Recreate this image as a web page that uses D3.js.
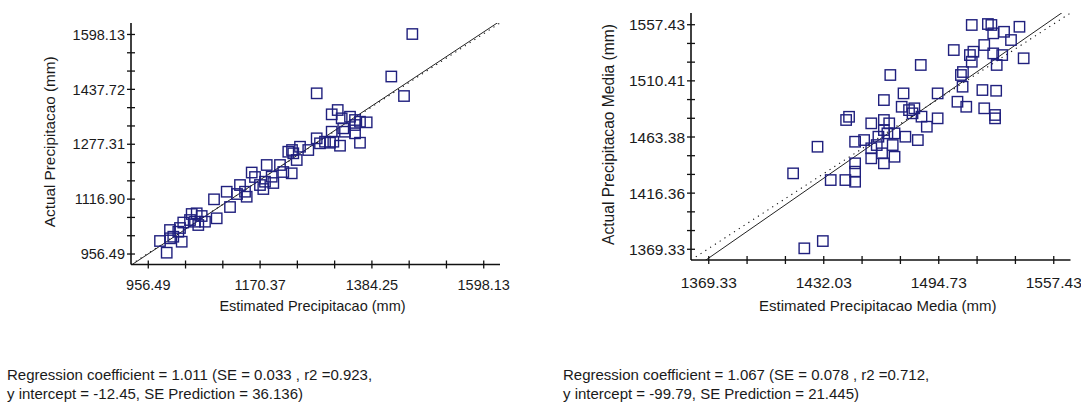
<!DOCTYPE html>
<html><head><meta charset="utf-8">
<script src="https://cdn.jsdelivr.net/npm/d3@7"></script>
<style>
body{margin:0;background:#fff}
text{font-family:"Liberation Sans",Arial,sans-serif;fill:#1a1a1a}
</style>
</head><body>
<svg id="c" width="1081" height="403"></svg>
<script>
// ---------- data ----------
const leftEstimated = [992.7, 979.9, 999.0, 1005.3, 1021.4, 999.0, 1014.9, 1024.4, 1018.1, 1040.5,
  1037.3, 1050.1, 1046.8, 1053.1, 1059.6, 1065.9, 1088.3, 1083.2, 1113.8, 1107.5,
  1127.2, 1132.9, 1145.7, 1142.5, 1155.3, 1161.6, 1171.1, 1177.5, 1180.7, 1184.0,
  1193.5, 1196.6, 1209.4, 1215.7, 1231.8, 1225.3, 1234.8, 1241.4, 1247.7, 1263.5,
  1232.4, 1279.6, 1285.9, 1295.5, 1305.0, 1311.4, 1324.2, 1319.8, 1308.3, 1327.4,
  1343.3, 1352.9, 1362.4, 1375.2, 1333.7, 1352.9, 1362.4, 1330.5, 1352.9, 1279.6,
  1422.3, 1446.6, 1462.5, 1308.3];
const leftActual = [958.9, 993.1, 1001.0, 1005.6, 991.0, 1025.2, 1020.2, 1047.1, 1031.1, 1072.0,
  1054.4, 1074.0, 1049.5, 1039.8, 1066.1, 1049.5, 1059.4, 1114.9, 1092.4, 1137.1,
  1130.4, 1156.7, 1122.5, 1137.1, 1193.2, 1180.1, 1156.7, 1145.0, 1166.4, 1215.2,
  1181.0, 1162.6, 1215.2, 1194.7, 1190.9, 1254.0, 1249.4, 1229.8, 1268.6, 1259.0,
  1259.0, 1293.2, 1278.6, 1283.3, 1280.3, 1283.3, 1271.6, 1375.9, 1363.3, 1351.6,
  1356.3, 1346.7, 1341.7, 1339.9, 1312.5, 1307.8, 1280.3, 1322.4, 1332.1, 1424.7,
  1473.8, 1416.8, 1598.0, 1312.5];

const rightEstimated = [1421.7, 1431.8, 1415.6, 1428.9, 1436.1, 1444.1, 1449.4, 1449.4, 1449.4, 1444.5,
  1446.1, 1449.4, 1454.3, 1458.2, 1458.2, 1458.2, 1462.1, 1465.1, 1465.1, 1465.1,
  1465.1, 1464.1, 1467.0, 1469.9, 1470.9, 1468.0, 1468.6, 1470.9, 1475.8, 1474.8,
  1476.8, 1478.8, 1480.7, 1481.7, 1483.6, 1485.6, 1485.2, 1488.5, 1494.4, 1494.4,
  1503.2, 1505.2, 1507.1, 1508.0, 1510.0, 1512.0, 1513.0, 1513.9, 1513.0, 1518.8,
  1519.8, 1519.8, 1521.8, 1523.7, 1524.7, 1524.7, 1525.7, 1526.3, 1526.6, 1529.6,
  1530.6, 1534.4, 1539.0, 1541.3, 1508.2, 1525.7, 1461.2];
const rightActual = [1369.7, 1375.8, 1432.5, 1454.8, 1426.9, 1426.9, 1425.5, 1433.9, 1440.9, 1477.2,
  1479.9, 1459.0, 1460.4, 1453.5, 1445.1, 1474.4, 1463.2, 1468.8, 1493.9, 1477.2,
  1440.9, 1449.3, 1466.0, 1456.2, 1446.4, 1474.4, 1514.9, 1466.0, 1499.5, 1488.3,
  1463.2, 1485.5, 1482.8, 1487.0, 1460.4, 1480.0, 1523.3, 1471.6, 1478.6, 1499.5,
  1535.8, 1492.5, 1514.9, 1505.1, 1488.3, 1531.6, 1556.8, 1534.4, 1526.0, 1502.3,
  1487.0, 1540.0, 1557.6, 1556.8, 1549.8, 1533.0, 1481.4, 1501.7, 1523.3, 1531.6,
  1551.1, 1544.2, 1555.3, 1528.9, 1517.4, 1478.6, 1456.2];

const leftXTicks = [956.49, 1170.37, 1384.25, 1598.13];
const leftYTicks = [956.49, 1116.90, 1277.31, 1437.72, 1598.13];
const rightXTicks = [1369.33, 1432.03, 1494.73, 1557.43];
const rightYTicks = [1369.33, 1416.36, 1463.38, 1510.41, 1557.43];

const leftDomain = [924.408, 1630.212];
const rightDomain = [1359.925, 1566.835];

const leftRegression = [1.011, -12.45];   // slope, intercept
const rightRegression = [1.067, -99.79];

const leftTitles = ["Estimated Precipitacao (mm)", "Actual Precipitacao (mm)"];
const rightTitles = ["Estimated Precipitacao Media (mm)", "Actual Precipitacao Media (mm)"];

const leftNotes = ["Regression coefficient = 1.011 (SE = 0.033 , r2 =0.923,",
                   "y intercept = -12.45, SE Prediction = 36.136)"];
const rightNotes = ["Regression coefficient = 1.067 (SE = 0.078 , r2 =0.712,",
                    "y intercept = -99.79, SE Prediction = 21.445)"];

// ---------- drawing ----------
const svg = d3.select("#c");
const markColor = "#20207e";

function withMinor(labels) {
  const out = [];
  for (let i = 0; i < labels.length; i++) {
    out.push(labels[i]);
    if (i < labels.length - 1) {
      const s = (labels[i + 1] - labels[i]) / 3;
      out.push(labels[i] + s, labels[i] + 2 * s);
    }
  }
  return out;
}

function panel(o) {
  const g = svg.append("g");
  const x = d3.scaleLinear().domain(o.domain).range(o.xr);
  const y = d3.scaleLinear().domain(o.domain).range(o.yr);
  const [x0, x1] = o.xr, [y0, y1] = o.yr;

  // reference lines
  const clip = "clip" + o.id;
  g.append("clipPath").attr("id", clip).append("rect")
    .attr("x", x0).attr("y", y1).attr("width", x1 - x0).attr("height", y0 - y1);
  const d0 = o.domain[0], d1 = o.domain[1];
  g.append("line").attr("clip-path", `url(#${clip})`)
    .attr("x1", x(d0)).attr("y1", y(d0)).attr("x2", x(d1)).attr("y2", y(d1))
    .attr("stroke", "#111").attr("stroke-width", 1.1).attr("stroke-dasharray", "1.2,4.5");
  const [m, b] = o.reg;
  g.append("line").attr("clip-path", `url(#${clip})`)
    .attr("x1", x(d0)).attr("y1", y(m * d0 + b)).attr("x2", x(d1)).attr("y2", y(m * d1 + b))
    .attr("stroke", "#222").attr("stroke-width", 1);

  // markers
  g.selectAll("rect.pt").data(o.xs.map((v, i) => [v, o.ys[i]])).join("rect")
    .attr("class", "pt")
    .attr("x", d => x(d[0]) - 5.2).attr("y", d => y(d[1]) - 5.2)
    .attr("width", 10.4).attr("height", 10.4)
    .attr("fill", "none").attr("stroke", markColor).attr("stroke-width", 1.4);

  // axes lines
  g.append("line").attr("x1", x0).attr("x2", x1).attr("y1", y0).attr("y2", y0)
    .attr("stroke", "#111").attr("stroke-width", 1.6);
  g.append("line").attr("x1", x0).attr("x2", x0).attr("y1", y0).attr("y2", y1)
    .attr("stroke", "#111").attr("stroke-width", 1.6);

  // x axis
  const xa = g.append("g").attr("transform", `translate(0,${y0})`)
    .call(d3.axisBottom(x).tickValues(withMinor(o.xt)).tickSize(0).tickFormat(""));
  xa.select(".domain").remove();
  xa.selectAll(".tick line").attr("y1", -4).attr("y2", 4).attr("stroke", "#111").attr("stroke-width", 1.3);
  const xl = g.append("g").attr("transform", `translate(0,${y0})`)
    .call(d3.axisBottom(x).tickValues(o.xt).tickSize(0).tickFormat(d => d.toFixed(2)));
  xl.select(".domain").remove();
  xl.selectAll("text").attr("y", o.xLabelDy).attr("dy", 0)
    .style("font-size", o.tickFont + "px").style("font-family", '"Liberation Sans",Arial,sans-serif')
    .attr("fill", "#1a1a1a");

  // y axis
  const ya = g.append("g").attr("transform", `translate(${x0},0)`)
    .call(d3.axisLeft(y).tickValues(withMinor(o.yt)).tickSize(0).tickFormat(""));
  ya.select(".domain").remove();
  ya.selectAll(".tick line").attr("x1", -4).attr("x2", 4).attr("stroke", "#111").attr("stroke-width", 1.3);
  const yl = g.append("g").attr("transform", `translate(${x0},0)`)
    .call(d3.axisLeft(y).tickValues(o.yt).tickSize(0).tickPadding(6).tickFormat(d => d.toFixed(2)));
  yl.select(".domain").remove();
  yl.selectAll("text").attr("dy", "0.36em")
    .style("font-size", o.tickFont + "px").style("font-family", '"Liberation Sans",Arial,sans-serif')
    .attr("fill", "#1a1a1a");

  // titles
  g.append("text").attr("x", (x0 + x1) / 2 - 3).attr("y", o.xTitleY).attr("text-anchor", "middle")
    .style("font-size", o.xTitleFont + "px").text(o.titles[0]);
  g.append("text").attr("transform", `translate(${o.yTitleX},${(y0 + y1) / 2 - 2}) rotate(-90)`)
    .attr("text-anchor", "middle").attr("dy", "0.35em")
    .style("font-size", o.yTitleFont + "px").text(o.titles[1]);

  // notes
  o.notes.forEach((t, i) => {
    g.append("text").attr("x", o.noteX).attr("y", 380 + i * 18.8)
      .style("font-size", "15px").text(t);
  });
}

panel({id: "L", domain: leftDomain, xr: [131, 500], yr: [264.5, 23],
  xs: leftEstimated, ys: leftActual, xt: leftXTicks, yt: leftYTicks, reg: leftRegression,
  titles: leftTitles, notes: leftNotes, tickFont: 14.5, xTitleFont: 14.5, yTitleFont: 15.3,
  xLabelDy: 25.5, xTitleY: 311, yTitleX: 50, noteX: 7});

panel({id: "R", domain: rightDomain, xr: [691, 1070.5], yr: [260, 13],
  xs: rightEstimated, ys: rightActual, xt: rightXTicks, yt: rightYTicks, reg: rightRegression,
  titles: rightTitles, notes: rightNotes, tickFont: 15.5, xTitleFont: 15, yTitleFont: 15.6,
  xLabelDy: 28, xTitleY: 311, yTitleX: 609, noteX: 563});
</script>
</body></html>
